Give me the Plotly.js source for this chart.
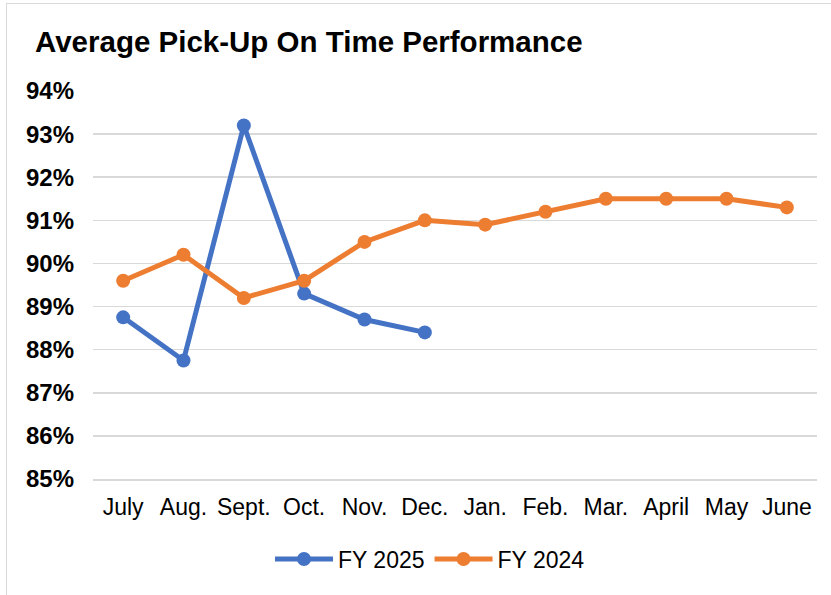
<!DOCTYPE html>
<html>
<head>
<meta charset="utf-8">
<script src="https://cdn.plot.ly/plotly-3.0.1.min.js"></script>
<style>
  html, body { margin: 0; padding: 0; background: #ffffff; }
  #wrap { position: relative; width: 831px; height: 595px; overflow: hidden; }
  #chart { position: absolute; left: 0; top: 0; width: 831px; height: 595px; }
  #frame { position: absolute; left: 6px; top: 3px; width: 840px; height: 620px;
           border: 1.5px solid #d9d9d9; pointer-events: none; box-sizing: border-box; }
</style>
</head>
<body>
<div id="wrap">
  <div id="chart"></div>
  <div id="frame"></div>
</div>
<script>
const months = ["July", "Aug.", "Sept.", "Oct.", "Nov.", "Dec.", "Jan.", "Feb.", "Mar.", "April", "May", "June"];
const fy2025 = [88.75, 87.75, 93.2, 89.3, 88.7, 88.4];
const fy2024 = [89.6, 90.2, 89.2, 89.6, 90.5, 91.0, 90.9, 91.2, 91.5, 91.5, 91.5, 91.3];
const yTicks = [85, 86, 87, 88, 89, 90, 91, 92, 93, 94];

const FONT = "Liberation Sans, Arial, sans-serif";

const traces = [
  {
    name: "FY 2025",
    x: months.slice(0, fy2025.length),
    y: fy2025,
    type: "scatter",
    mode: "lines+markers",
    line: { color: "#4472C4", width: 5 },
    marker: { color: "#4472C4", size: 14 }
  },
  {
    name: "FY 2024",
    x: months,
    y: fy2024,
    type: "scatter",
    mode: "lines+markers",
    line: { color: "#ED7D31", width: 5 },
    marker: { color: "#ED7D31", size: 14 }
  }
];

const layout = {
  width: 831,
  height: 595,
  paper_bgcolor: "#ffffff",
  plot_bgcolor: "#ffffff",
  margin: { l: 93, r: 14, t: 91, b: 116 },
  font: { family: FONT, color: "#000000" },
  title: {
    text: "Average Pick-Up On Time Performance",
    font: { family: FONT, size: 29.5, weight: "bold", color: "#000000" },
    xref: "container", yref: "container",
    x: 35 / 831, xanchor: "left",
    y: 1 - 42 / 595, yanchor: "middle"
  },
  xaxis: {
    type: "category",
    categoryorder: "array",
    categoryarray: months,
    range: [-0.5, 11.5],
    showgrid: false,
    zeroline: false,
    showline: true,
    linecolor: "#d9d9d9",
    linewidth: 1.5,
    ticks: "",
    ticklabelstandoff: 7,
    tickfont: { family: FONT, size: 23, color: "#000000" }
  },
  yaxis: {
    range: [85, 94],
    tickmode: "array",
    tickvals: yTicks,
    ticktext: yTicks.map(v => v + "%"),
    showgrid: true,
    gridcolor: "#d9d9d9",
    gridwidth: 1.5,
    zeroline: false,
    showline: false,
    ticks: "",
    ticklabelstandoff: 18,
    tickfont: { family: FONT, size: 24, weight: "bold", color: "#000000" }
  },
  showlegend: true,
  legend: {
    orientation: "h",
    xref: "container", yref: "container",
    x: 430 / 831, xanchor: "center",
    y: 1 - 559 / 595, yanchor: "middle",
    font: { family: FONT, size: 23, color: "#000000" },
    itemwidth: 58,
    tracegroupgap: 0
  }
};

Plotly.newPlot("chart", traces, layout, { displayModeBar: false, staticPlot: true });
</script>
</body>
</html>
